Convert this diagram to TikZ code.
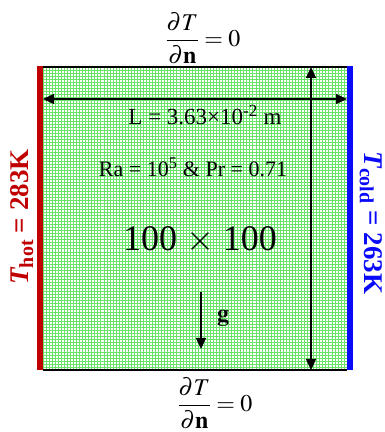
\documentclass[tikz,border=0pt]{standalone}
\usepackage{amsmath}
\usepackage{mathptmx}
\usepackage{fontspec}
\setmainfont{Liberation Serif}
\usetikzlibrary{arrows.meta}
\definecolor{HotRed}{RGB}{192,0,0}
\definecolor{ColdBlue}{RGB}{10,10,250}
\definecolor{MeshGreen}{RGB}{105,228,105}

\begin{document}
\begin{tikzpicture}[x=1pt,y=1pt,
    dimline/.style={{Triangle[length=11pt,width=10pt]}-{Triangle[length=11pt,width=10pt]}, line width=1.3pt},
    gline/.style={-{Triangle[length=11pt,width=10pt]}, line width=1.3pt}]
        \useasboundingbox (0,0) rectangle (385,432);
        \coordinate (meshSW) at (43,62);
        \coordinate (meshNE) at (347,365);
        \fill[white] (meshSW) rectangle (meshNE);
        \begin{scope}[shift={(meshSW)}]
          \draw[MeshGreen, line width=0.6pt, xstep=3.04pt, ystep=3.03pt] (0,0) grid (304,303);
        \end{scope}
        \draw[line width=1.2pt] (43,365)--(347,365) (43,62)--(347,62);
        \fill[HotRed] (37,61.5) rectangle (43,365.5);
        \fill[ColdBlue] (347,61.5) rectangle (353,365.5);
        \coordinate (Lleft) at (43,333);
        \coordinate (Lright) at (347,333);
        \coordinate (Htop) at (311,365);
        \coordinate (Hbot) at (311,62);
        \coordinate (gtop) at (201,140);
        \coordinate (gbot) at (201,83);
        \draw[dimline] (Lleft)--(Lright);
        \draw[dimline] (Htop)--(Hbot);
        \draw[gline] (gtop)--(gbot);
        \node (gLabel) at (223,114) {\fontsize{24}{28}\selectfont$\mathbf{g}$};
        \node (topBC) at (203,394) {\fontsize{24}{28}\selectfont$\dfrac{\partial T}{\partial \mathbf{n}} = 0$};
        \node (botBC) at (215,29) {\fontsize{24}{28}\selectfont$\dfrac{\partial T}{\partial \mathbf{n}} = 0$};
        \node (Llabel) at (205,317) {\fontsize{23}{27}\selectfont L = 3.63×10\textsuperscript{-2} m};
        \node (RaPr) at (193,265) {\fontsize{22}{26}\selectfont Ra = 10\textsuperscript{5} \& Pr = 0.71};
        \node (meshSize) at (200,192) {\fontsize{36}{40}\selectfont 100 $\times$ 100};
        \node[rotate=90, text=HotRed] (Thot) at (22,215) {\fontsize{27}{30}\selectfont\bfseries\itshape T\textsubscript{\upshape hot}\upshape{} = 283K};
        \node[rotate=-90, text=ColdBlue] (Tcold) at (371,209) {\fontsize{27}{30}\selectfont\bfseries\itshape T\textsubscript{\upshape cold}\upshape{} = 263K};
      \end{tikzpicture}
\end{document}
